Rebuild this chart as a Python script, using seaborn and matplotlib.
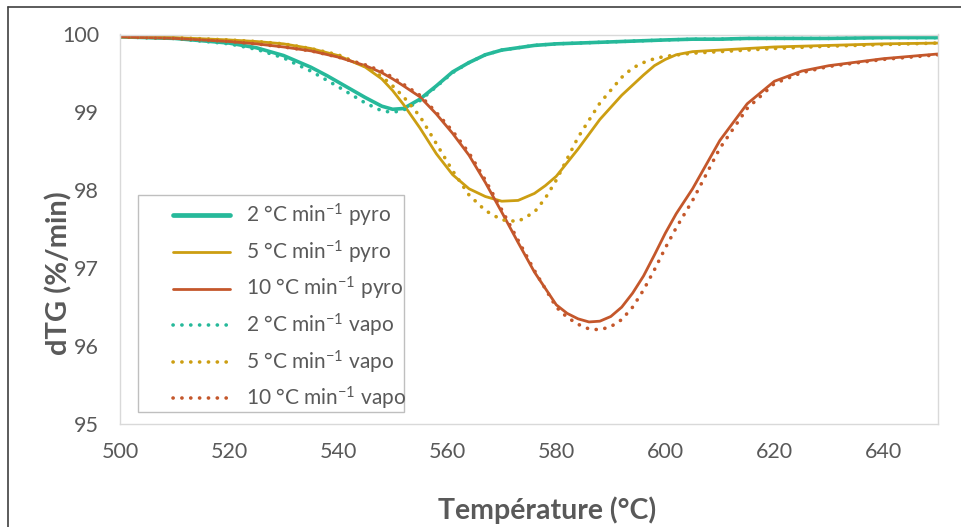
import numpy as np
import pandas as pd
import matplotlib
matplotlib.use("Agg")
import matplotlib.pyplot as plt
from matplotlib.lines import Line2D
from matplotlib.patches import Rectangle
import seaborn as sns

# ---------------- data ----------------
T_teal = [500, 510, 520, 525, 530, 532, 535, 538, 540, 545, 548, 550, 552, 555, 558, 561, 564, 567, 570, 573,
          576, 580, 584, 588, 592, 596, 600, 605, 610, 615, 620, 630, 640, 650]
pyro_2 = [99.97, 99.95, 99.89, 99.83, 99.73, 99.67, 99.58, 99.47, 99.39, 99.19, 99.08, 99.04, 99.05, 99.17,
          99.34, 99.52, 99.64, 99.74, 99.80, 99.83, 99.86, 99.88, 99.89, 99.90, 99.91, 99.92, 99.93, 99.94,
          99.94, 99.95, 99.95, 99.95, 99.96, 99.96]
vapo_2 = [99.97, 99.95, 99.88, 99.81, 99.70, 99.63, 99.53, 99.41, 99.33, 99.12, 99.02, 99.00, 99.03, 99.15,
          99.33, 99.51, 99.64, 99.74, 99.80, 99.83, 99.86, 99.88, 99.89, 99.90, 99.91, 99.92, 99.93, 99.94,
          99.94, 99.95, 99.95, 99.95, 99.96, 99.96]

T_gold_p = [500, 510, 520, 525, 530, 535, 540, 545, 548, 550, 552, 555, 558, 561, 564, 567, 570, 573, 576,
            578, 580, 584, 588, 592, 596, 598, 600, 602, 605, 610, 615, 620, 630, 640, 650]
pyro_5 = [99.97, 99.96, 99.93, 99.91, 99.88, 99.82, 99.73, 99.58, 99.43, 99.28, 99.10, 98.80, 98.47, 98.20,
          98.02, 97.92, 97.86, 97.87, 97.96, 98.06, 98.18, 98.53, 98.91, 99.22, 99.48, 99.60, 99.68, 99.74,
          99.78, 99.80, 99.82, 99.84, 99.86, 99.88, 99.89]
T_gold_v = [500, 510, 520, 525, 530, 535, 540, 545, 548, 550, 552, 555, 558, 561, 564, 567, 570, 573, 576,
            578, 580, 584, 588, 592, 594, 596, 598, 600, 605, 610, 615, 620, 630, 640, 650]
vapo_5 = [99.97, 99.96, 99.93, 99.91, 99.88, 99.82, 99.74, 99.59, 99.46, 99.34, 99.20, 98.95, 98.60, 98.25,
          97.94, 97.74, 97.62, 97.60, 97.72, 97.90, 98.13, 98.68, 99.12, 99.45, 99.57, 99.64, 99.69, 99.72,
          99.76, 99.78, 99.80, 99.82, 99.85, 99.87, 99.89]

T_red_p = [500, 510, 520, 525, 530, 535, 540, 545, 548, 550, 552, 555, 558, 561, 564, 567, 570, 573, 576,
           580, 582, 584, 586, 588, 590, 592, 594, 596, 598, 600, 602, 605, 610, 615, 620, 625, 630, 640, 650]
pyro_10 = [99.97, 99.95, 99.91, 99.88, 99.84, 99.79, 99.71, 99.60, 99.51, 99.43, 99.34, 99.20, 98.98, 98.73,
           98.45, 98.10, 97.72, 97.33, 96.95, 96.53, 96.42, 96.35, 96.31, 96.32, 96.38, 96.50, 96.68, 96.90,
           97.17, 97.45, 97.70, 98.02, 98.64, 99.11, 99.40, 99.53, 99.60, 99.69, 99.75]
T_red_v = [500, 510, 520, 525, 530, 535, 540, 545, 548, 550, 552, 555, 558, 561, 564, 567, 570, 573, 576,
           580, 582, 584, 586, 588, 590, 592, 594, 596, 598, 600, 602, 605, 610, 615, 620, 625, 630, 640, 650]
vapo_10 = [99.97, 99.95, 99.91, 99.88, 99.84, 99.79, 99.71, 99.61, 99.53, 99.45, 99.36, 99.22, 99.00, 98.76,
           98.48, 98.13, 97.75, 97.36, 96.97, 96.50, 96.37, 96.28, 96.22, 96.21, 96.25, 96.34, 96.50, 96.72,
           96.98, 97.26, 97.52, 97.87, 98.54, 99.05, 99.37, 99.51, 99.59, 99.68, 99.74]

labels = ["2 °C min$^{-1}$ pyro", "5 °C min$^{-1}$ pyro", "10 °C min$^{-1}$ pyro",
          "2 °C min$^{-1}$ vapo", "5 °C min$^{-1}$ vapo", "10 °C min$^{-1}$ vapo"]
x_ticks = [500, 520, 540, 560, 580, 600, 620, 640]
y_ticks = [95, 96, 97, 98, 99, 100]

# ---------------- style ----------------
sns.set_theme(style="white")
plt.rcParams["font.family"] = ["Lato", "DejaVu Sans"]
plt.rcParams["mathtext.default"] = "regular"

TEAL = "#26B99A"
GOLD = "#CC9E12"
RED = "#C4572B"
GRAY = "#595959"

fig = plt.figure(figsize=(9.61, 5.27), dpi=100)
ax = fig.add_axes([120 / 961, 1 - 424 / 527, 818 / 961, (424 - 34.5) / 527])

DOT = (0, (0.05, 2.4))
series = [
    (T_teal, pyro_2, TEAL, "-", 2.6),
    (T_gold_p, pyro_5, GOLD, "-", 2.0),
    (T_red_p, pyro_10, RED, "-", 2.0),
    (T_teal, vapo_2, TEAL, "dot", 2.6),
    (T_gold_v, vapo_5, GOLD, "dot", 2.6),
    (T_red_v, vapo_10, RED, "dot", 2.6),
]
handles = []
for (xs, ys, c, ls, lw), lab in zip(series, labels):
    df = pd.DataFrame({"T": xs, "v": ys})
    if ls == "dot":
        sns.lineplot(data=df, x="T", y="v", ax=ax, color=c, lw=lw, sort=False,
                     linestyle=DOT, dash_capstyle="round")
        handles.append(Line2D([], [], color=c, lw=lw, linestyle=DOT,
                              dash_capstyle="round", label=lab))
    else:
        sns.lineplot(data=df, x="T", y="v", ax=ax, color=c, lw=lw, sort=False)
        handles.append(Line2D([], [], color=c, lw=lw + (0.8 if c == TEAL else 0), label=lab))

ax.set_xlim(500, 650)
ax.set_ylim(95, 100)
ax.set_xticks(x_ticks)
ax.set_yticks(y_ticks)
ax.tick_params(axis="both", length=0, labelsize=15.5, labelcolor=GRAY)
ax.tick_params(axis="x", pad=13)
ax.tick_params(axis="y", pad=15)
for s in ax.spines.values():
    s.set_visible(True)
    s.set_color("#D9D9D9")
    s.set_linewidth(1.0)

ax.set_xlabel("Température (°C)", fontsize=20.5, fontweight="bold", color=GRAY)
ax.set_ylabel("dTG (%/min)", fontsize=21, fontweight="bold", color=GRAY)
ax.xaxis.set_label_coords((547 - 120) / 818, (424 - 496) / 389.5)
ax.yaxis.set_label_coords((72 - 120) / 818, (424 - 273) / 389.5)

# legend frame drawn as a rectangle, entries placed inside
ax.add_patch(Rectangle((18 / 818, 12 / 389.5), 266 / 818, 217 / 389.5, transform=ax.transAxes,
                       facecolor="white", edgecolor="#BFBFBF", lw=1.0, zorder=4))
leg = ax.legend(handles=handles, loc="upper left", bbox_to_anchor=((173 - 120) / 818, (424 - 202) / 389.5),
                fontsize=15, frameon=False, handlelength=2.75, labelspacing=0.45, borderpad=0,
                handletextpad=0.75, borderaxespad=0)
leg.set_zorder(5)
for t in leg.get_texts():
    t.set_color(GRAY)

# outer border (top and left edges visible in the reference)
fig.add_artist(Line2D([8 / 961, 1.0], [1 - 7 / 527, 1 - 7 / 527], transform=fig.transFigure,
                      color="#404040", lw=1.2))
fig.add_artist(Line2D([8 / 961, 8 / 961], [0, 1 - 7 / 527], transform=fig.transFigure,
                      color="#404040", lw=1.2))

fig.savefig("out.png", dpi=100)
